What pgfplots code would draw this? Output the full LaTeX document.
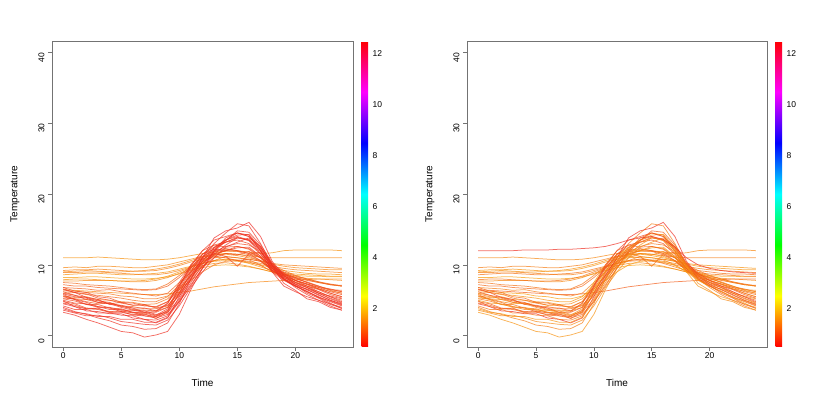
\documentclass[border=0pt]{standalone}
\usepackage{fontspec}
\setmainfont{Liberation Sans}
\usepackage{pgfplots}
\usepackage{pgfplotstable}
\pgfplotsset{compat=1.18}

% hourly temperature curves
\pgfplotstableread{
t  b1   b2   b3   b4   b5   b6   b7   b8   b9   b10  b11  b12  b13  b14  b15  b16  m1   m2   m3   m4   f1   f2   f3   f4   f5   f6   f7   f8   r1   b17  b18  b19  b20  b21  m5   m6   f9   f10
0  3.3  4.0  4.5  5.8  5.5  6.2  4.8  4.2  5.0  6.5  3.8  5.2  6.8  4.6  5.6  6.0  6.8  6.0  5.6  7.5  11.0 9.6  9.2  8.6  8.2  7.7  6.5  8.9  12.0 5.9  4.9  6.6  5.3  3.6  6.3  7.2  9.0  7.9
1  2.9  3.4  4.1  5.1  5.1  5.7  4.5  3.7  4.6  6.1  3.3  4.9  6.3  4.3  5.2  5.7  6.7  6.1  5.4  7.4  11.0 9.7  9.3  8.7  8.2  7.7  6.4  8.9  12.0 5.5  4.1  6.1  5.2  3.2  6.3  7.0  9.1  8.0
2  2.3  3.0  3.5  4.7  4.4  5.4  3.9  3.7  4.5  5.4  3.1  4.4  6.1  3.8  5.1  5.1  6.6  5.8  5.5  7.2  11.0 9.6  9.3  8.8  8.3  7.8  6.3  9.0  12.0 5.3  3.8  5.9  4.8  2.8  6.1  7.0  9.2  8.0
3  1.8  2.5  3.4  4.1  4.1  4.9  3.8  3.2  4.0  5.1  2.7  4.4  5.5  3.7  4.7  5.0  6.4  5.7  5.1  7.1  11.1 9.8  9.4  8.8  8.3  7.8  6.2  9.0  12.0 4.7  3.9  5.3  4.5  2.9  6.0  6.8  9.1  7.9
4  1.2  2.1  3.1  3.9  3.7  4.7  3.4  3.2  4.0  4.4  2.7  3.9  5.3  3.3  4.6  4.5  6.5  5.5  5.0  7.0  11.0 9.8  9.3  8.7  8.2  7.8  6.1  8.9  12.1 4.5  3.3  5.0  4.6  2.5  5.9  6.7  9.0  7.8
5  0.6  1.5  3.1  3.4  3.7  4.1  3.5  2.9  3.6  4.3  2.3  3.8  4.7  3.3  4.2  4.7  6.2  5.3  4.8  6.8  10.9 9.7  9.2  8.6  8.1  7.7  6.0  8.8  12.1 4.0  3.4  4.6  4.2  2.0  5.6  6.6  9.0  7.7
6  0.4  1.3  2.5  3.3  3.3  3.9  3.2  2.8  3.6  3.9  2.3  3.3  4.6  3.0  4.1  4.3  6.0  5.0  4.7  6.6  10.8 9.6  9.1  8.6  8.0  7.6  5.9  8.7  12.1 3.6  2.9  4.3  3.7  1.8  5.5  6.5  9.1  7.7
7  -0.2 0.9  2.3  2.8  3.3  3.3  3.1  2.3  3.3  3.9  1.9  3.2  4.2  3.0  3.8  4.3  5.8  4.8  4.4  6.5  10.7 9.6  9.1  8.7  8.0  7.6  5.8  8.6  12.2 3.5  2.8  4.4  3.6  1.6  5.2  6.4  9.2  7.8
8  0.1  1.0  1.8  2.7  2.9  3.3  2.4  2.2  3.4  3.5  1.9  2.8  4.1  2.7  3.8  4.0  5.6  4.8  4.5  6.6  10.7 9.8  9.2  8.8  8.1  7.8  5.8  8.6  12.2 3.0  2.5  3.9  3.5  1.5  5.2  6.5  9.4  8.0
9  0.6  1.8  2.5  3.2  3.8  4.0  3.4  2.8  4.5  4.6  2.6  3.5  4.8  3.6  4.2  4.8  6.0  5.5  5.2  7.3  10.8 10.0 9.5  9.0  8.3  8.2  5.9  8.8  12.3 3.3  3.0  4.3  4.0  2.2  5.6  7.0  9.7  8.4
10 3.0  4.5  5.5  6.0  6.5  6.8  7.0  5.0  7.5  7.0  4.8  6.0  7.2  5.8  6.2  6.5  7.5  7.2  6.8  8.5  11.0 10.4 9.9  9.4  8.7  8.8  6.1  9.2  12.4 5.2  4.8  6.0  5.6  4.2  6.6  8.2  10.1 9.0
11 6.5  8.0  8.5  9.0  9.2  9.5  10.0 7.5  10.0 9.8  7.2  8.8  9.6  8.2  8.6  8.5  9.0  9.0  8.4  9.8  11.3 10.8 10.4 9.8  9.2  9.4  6.3  9.7  12.6 8.0  7.0  8.0  7.8  6.8  7.8  9.6  10.6 9.6
12 9.5  11.0 11.0 11.5 11.0 11.5 12.0 10.0 11.5 12.0 9.5  10.8 11.2 10.5 10.4 10.2 10.5 10.5 9.8  11.0 11.6 11.2 10.8 10.2 9.6  9.9  6.6  10.2 13.0 10.6 9.6  10.2 9.8  9.0  9.0  10.8 11.1 10.2
13 12.0 13.0 13.8 12.5 12.4 12.8 12.8 12.0 12.2 13.5 11.5 11.6 12.0 12.2 11.2 11.4 11.5 11.3 10.6 11.8 11.8 11.5 11.0 10.5 9.9  10.2 6.9  10.6 13.5 12.4 11.8 11.8 11.0 11.0 10.0 11.6 11.4 10.6
14 13.5 14.5 14.8 13.5 13.5 13.2 12.5 13.8 12.0 14.0 12.8 11.2 12.3 13.2 11.0 12.0 12.0 11.6 11.2 12.2 11.9 11.6 11.1 10.6 10.0 10.3 7.1  10.8 13.8 13.2 13.4 12.6 11.6 12.5 10.5 12.0 11.5 10.8
15 14.5 15.8 15.2 14.0 14.2 13.5 12.6 14.5 12.4 14.5 13.8 9.8  12.0 13.8 10.6 12.6 12.0 11.5 11.0 12.0 11.9 11.5 11.0 10.5 9.9  10.1 7.3  10.7 14.0 13.9 14.8 13.0 11.4 13.2 10.6 11.9 11.3 10.6
16 14.2 15.5 16.0 13.5 14.3 13.0 12.2 14.0 12.5 14.0 13.5 11.5 11.6 13.6 10.8 12.3 11.8 11.2 10.7 11.6 11.8 11.3 10.8 10.3 9.7  9.8  7.5  10.5 13.6 13.4 14.6 12.8 11.9 13.8 10.4 11.4 11.0 10.2
17 12.0 13.0 14.0 12.0 12.5 11.5 11.0 12.2 11.2 12.5 12.0 11.8 10.6 12.3 10.5 11.2 11.0 10.5 10.0 11.0 11.6 11.1 10.5 10.0 9.4  9.4  7.6  10.2 12.5 11.6 12.8 11.9 11.0 12.6 9.9  10.6 10.6 9.7
18 9.0  10.0 10.5 9.5  10.0 9.5  9.2  9.8  9.0  10.2 9.6  10.0 9.2  10.0 9.4  9.5  9.8  9.2  9.0  10.0 11.7 11.0 10.2 9.6  9.0  9.0  7.7  9.8  11.0 9.3  10.3 9.8  9.6  9.9  9.1  9.5  10.1 9.2
19 7.0  8.0  8.5  8.0  8.5  8.2  8.0  8.3  7.8  8.8  8.0  8.6  8.4  8.5  8.7  8.6  9.0  8.4  8.2  9.2  12.0 11.0 10.0 9.2  8.7  8.6  7.8  9.5  10.0 7.9  8.1  8.7  8.9  7.4  8.6  8.8  9.8  8.9
20 6.2  6.8  7.2  7.0  7.5  7.5  7.3  7.3  7.0  7.8  7.0  7.8  7.8  7.5  8.0  7.8  8.4  7.8  7.6  8.5  12.1 11.0 9.9  9.0  8.5  8.3  7.9  9.3  9.5  7.0  7.1  8.1  8.2  6.4  8.2  8.2  9.6  8.7
21 5.5  5.8  6.5  6.2  6.8  7.0  6.8  6.5  6.6  7.0  6.2  7.2  7.3  6.8  7.6  7.3  8.0  7.3  7.0  8.0  12.1 11.0 9.8  8.8  8.4  8.1  7.9  9.2  9.2  6.3  6.0  7.5  7.5  5.2  7.9  7.8  9.5  8.6
22 5.0  5.0  5.8  5.5  6.0  6.5  6.2  5.7  6.0  6.2  5.4  6.6  6.8  6.0  7.0  6.6  7.6  6.8  6.6  7.6  12.1 11.0 9.7  8.7  8.4  8.0  8.0  9.1  9.0  5.4  5.3  6.9  7.0  4.8  7.5  7.5  9.4  8.5
23 4.5  4.2  5.0  4.8  5.2  5.8  5.5  5.0  5.6  5.5  4.6  6.0  6.2  5.3  6.4  6.0  7.2  6.5  6.3  7.3  12.1 11.0 9.6  8.7  8.3  7.9  8.0  9.0  8.9  4.9  4.4  6.6  6.5  4.0  7.2  7.2  9.3  8.4
24 4.0  3.6  4.4  4.2  4.6  5.3  5.0  4.5  5.2  4.8  3.8  5.5  5.8  4.7  6.0  5.5  7.0  6.2  6.0  7.0  12.0 11.0 9.5  8.6  8.3  7.8  8.0  8.9  8.8  4.3  3.9  6.2  6.4  3.6  7.0  7.1  9.3  8.4
}\curves

% one curve: column, share of yellow in the red-yellow mix
\newcommand{\cv}[2]{\addplot[draw=yellow!#2!red, line width=0.75pt, opacity=0.7] table[x=t, y=#1]{\curves};}

\pgfplotsset{
  panel/.style={
    scale only axis, anchor=south west,
    height=306pt,
    xmin=-0.96, xmax=24.96, ymin=-1.6, ymax=41.6,
    xtick={0,5,...,20}, ytick={0,10,...,40},
    xtick pos=lower, ytick pos=left,
    tick align=outside, major tick length=4pt,
    axis line style={black!55}, every tick/.style={black!55, line width=0.5pt},
    tick label style={font=\fontsize{8.5}{10}\selectfont},
    label style={font=\fontsize{8.5}{10}\selectfont},
    /pgf/number format/assume math mode=true,
    xticklabel style={yshift=1.5pt},
    yticklabel style={rotate=90, anchor=south, xshift=-5pt},
    xlabel={Time}, ylabel={Temperature},
    every axis x label/.style={at={(axis description cs:0.5,0)}, anchor=center, yshift=-36pt},
    every axis y label/.style={at={(axis description cs:0,0.5)}, anchor=center, xshift=-37pt, rotate=90},
    colormap={hue}{rgb255=(255,0,0) rgb255=(255,255,0) rgb255=(0,255,0) rgb255=(0,255,255) rgb255=(0,0,255) rgb255=(255,0,255) rgb255=(255,0,0)},
    point meta min=0.5, point meta max=12.5,
    colorbar,
    colorbar style={
      at={(parent axis.north east)}, anchor=north west, xshift=0pt,
      width=6.5pt,
      ytick={2,4,...,12},
      major tick length=0pt,
      axis line style={draw=none},
      yticklabel style={font=\fontsize{8.5}{10}\selectfont, anchor=west, xshift=1pt},
      /pgf/number format/assume math mode=true,
    },
  },
}

\begin{document}
\begin{tikzpicture}
\path[use as bounding box] (0,0) rectangle (830pt,399pt);

\begin{axis}[panel, at={(52pt,52pt)}, width=301pt]
\cv{f1}{55}\cv{f2}{50}\cv{f3}{45}\cv{f4}{55}\cv{f5}{60}\cv{f6}{50}\cv{f7}{50}\cv{f8}{45}\cv{f9}{50}\cv{f10}{55}
\cv{m1}{30}\cv{m2}{35}\cv{m3}{40}\cv{m4}{35}\cv{m5}{40}\cv{m6}{30}
\cv{b15}{30}\cv{b16}{25}\cv{b13}{20}\cv{b12}{20}\cv{b9}{15}\cv{b7}{20}\cv{b20}{25}\cv{b19}{20}
\cv{b1}{8}\cv{b2}{10}\cv{b3}{5}\cv{b4}{15}\cv{b5}{12}\cv{b6}{18}
\cv{b8}{10}\cv{b10}{12}\cv{b11}{8}\cv{b14}{15}\cv{b17}{10}\cv{b18}{12}\cv{b21}{8}
\end{axis}

\begin{axis}[panel, at={(467pt,52pt)}, width=300pt]
\cv{f1}{50}\cv{f2}{45}\cv{f3}{55}\cv{f4}{40}\cv{f5}{60}\cv{f6}{50}\cv{f7}{30}\cv{f8}{45}\cv{f9}{55}\cv{f10}{40}
\cv{m1}{45}\cv{m2}{55}\cv{m3}{50}\cv{m4}{40}\cv{m5}{60}\cv{m6}{35}
\cv{b15}{45}\cv{b16}{50}\cv{b13}{35}\cv{b12}{40}\cv{b9}{55}\cv{b7}{30}\cv{b20}{50}\cv{b19}{40}
\cv{b1}{55}\cv{b2}{45}\cv{b3}{8}\cv{b4}{35}\cv{b5}{50}\cv{b6}{25}
\cv{b8}{40}\cv{b10}{20}\cv{b11}{55}\cv{b14}{35}\cv{b17}{45}\cv{b18}{30}\cv{b21}{50}
\cv{r1}{8}
\end{axis}
\end{tikzpicture}
\end{document}
